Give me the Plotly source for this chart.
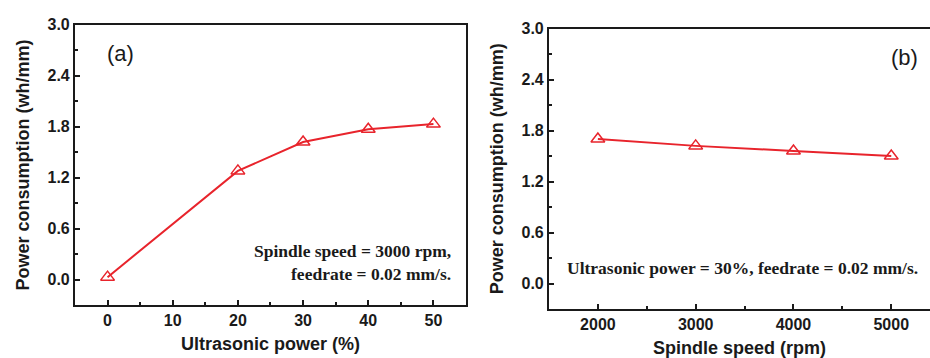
import plotly.graph_objects as go

# Panel (a): power consumption vs ultrasonic power
ultrasonic_power = [0, 20, 30, 40, 50]
consumption_a = [0.03, 1.28, 1.62, 1.77, 1.83]
x_ticks_a = [0, 10, 20, 30, 40, 50]

# Panel (b): power consumption vs spindle speed
spindle_speed = [2000, 3000, 4000, 5000]
consumption_b = [1.70, 1.62, 1.56, 1.50]
x_ticks_b = [2000, 3000, 4000, 5000]

y_ticks = [0.0, 0.6, 1.2, 1.8, 2.4, 3.0]
y_ticklabels = ["0.0", "0.6", "1.2", "1.8", "2.4", "3.0"]

RED = "#e8242c"
SANS = "Liberation Sans, Arial, sans-serif"
SERIF = "Liberation Serif, Times New Roman, serif"


def bold(labels):
    return [f"<b>{t}</b>" for t in labels]


fig = go.Figure()

marker = dict(symbol="triangle-up-open", size=12, color=RED, line=dict(width=1.5, color=RED))

fig.add_trace(go.Scatter(x=ultrasonic_power, y=consumption_a, mode="lines+markers",
                         line=dict(color=RED, width=2), marker=marker,
                         xaxis="x", yaxis="y", showlegend=False))
fig.add_trace(go.Scatter(x=spindle_speed, y=consumption_b, mode="lines+markers",
                         line=dict(color=RED, width=2), marker=marker,
                         xaxis="x2", yaxis="y2", showlegend=False))

tickfont = dict(family=SANS, size=16, color="#1a1a1a")
titlefont = dict(family=SANS, size=18, color="#1a1a1a", weight="bold")

common_axis = dict(showline=True, linecolor="#1a1a1a", linewidth=2, ticks="inside",
                   ticklen=5, tickwidth=1.5, tickcolor="#1a1a1a", showgrid=False,
                   zeroline=False, tickfont=tickfont)

y_common = dict(common_axis, range=[-0.3, 3.0], tickvals=y_ticks, ticktext=bold(y_ticklabels),
                minor=dict(ticks="inside", ticklen=3, tickwidth=1.5, tickcolor="#1a1a1a",
                           dtick=0.3, tick0=0.3, showgrid=False))

fig.update_layout(
    width=930, height=358,
    margin=dict(l=0, r=0, t=0, b=0),
    plot_bgcolor="white", paper_bgcolor="white",
    xaxis=dict(common_axis, domain=[0.0806, 0.5011], range=[-5, 55],
               tickvals=x_ticks_a, ticktext=bold([str(v) for v in x_ticks_a]),
               mirror=True, anchor="y",
               minor=dict(ticks="inside", ticklen=3, tickwidth=1.5, tickcolor="#1a1a1a",
                          dtick=5, tick0=5, showgrid=False),
               title=dict(text="Ultrasonic power (%)", font=titlefont, standoff=9)),
    yaxis=dict(y_common, domain=[0.1508, 0.9525], mirror=True, anchor="x",
               title=dict(text="Power consumption (wh/mm)", font=titlefont, standoff=13)),
    xaxis2=dict(common_axis, domain=[0.5903, 1.0], range=[1500, 5396],
                tickvals=x_ticks_b, ticktext=bold([str(v) for v in x_ticks_b]),
                mirror=True, anchor="y2",
                minor=dict(ticks="inside", ticklen=3, tickwidth=1.5, tickcolor="#1a1a1a",
                           dtick=500, tick0=1500, showgrid=False),
                title=dict(text="Spindle speed (rpm)", font=titlefont, standoff=9)),
    yaxis2=dict(y_common, domain=[0.1397, 0.9413], mirror=False, anchor="x2",
                title=dict(text="Power consumption (wh/mm)", font=titlefont, standoff=13)),
    annotations=[
        dict(text="(a)", xref="x", yref="y", x=-0.4, y=2.66, xanchor="left", yanchor="middle",
             showarrow=False, font=dict(family=SANS, size=22, color="#1a1a1a")),
        dict(text="<b>Spindle speed = 3000 rpm,<br>feedrate = 0.02 mm/s.</b>", xref="x", yref="y",
             x=53, y=0.2, xanchor="right", yanchor="middle", align="right", showarrow=False,
             font=dict(family=SERIF, size=17.5, color="#1a1a1a")),
        dict(text="(b)", xref="x2", yref="y2", x=5140, y=2.66, xanchor="center", yanchor="middle",
             showarrow=False, font=dict(family=SANS, size=22, color="#1a1a1a")),
        dict(text="<b>Ultrasonic power = 30%, feedrate = 0.02 mm/s.</b>", xref="x2", yref="y2",
             x=3480, y=0.18, xanchor="center", yanchor="middle", showarrow=False,
             font=dict(family=SERIF, size=17.5, color="#1a1a1a")),
    ],
)

fig.write_html("out.html")
